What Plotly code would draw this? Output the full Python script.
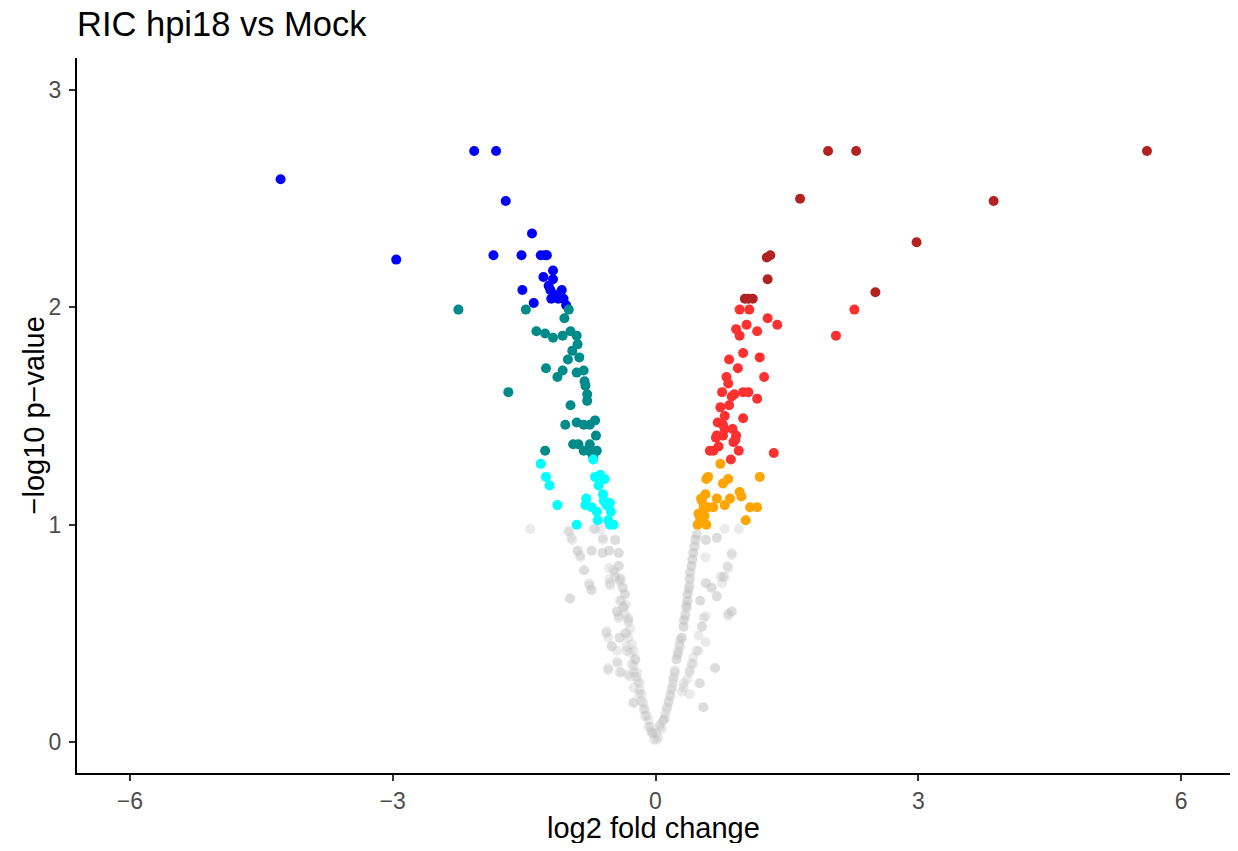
import plotly.graph_objects as go

# ---------------- data (log2 fold change, -log10 p-value) ----------------
gray_x = [-1.43, -0.98, -0.95, -0.69, -0.63, -0.60, -0.46, -0.89, -0.86, -0.73, -0.60, -0.53, -0.42,
          -0.82, -0.53, -0.46, -0.42, -0.39, -0.41, -0.53, -0.52, -0.76, -0.73, -0.37, -0.35, -0.98,
          -0.41, -0.34, -0.44, -0.42, -0.31, -0.31, -0.56, -0.54, -0.41, -0.33, -0.50, -0.44, -0.27,
          -0.25, -0.33, -0.23, -0.25, -0.54, -0.43, -0.39, -0.31, -0.21, -0.20, -0.18, -0.16, -0.25,
          -0.14, -0.12, -0.08, -0.06, -0.03, 0.01, -0.05, 0.03, -0.02, 0.05, -0.10, 0.09, -0.29, -0.36,
          0.07, 0.11, 0.13, 0.15, 0.17, 0.18, 0.20, 0.21, 0.22, 0.24, 0.26, 0.27, 0.30, 0.32, 0.33,
          0.34, 0.36, 0.37, 0.37, 0.39, 0.39, 0.40, 0.41, 0.42, 0.43, 0.44, 0.45, 0.47, 0.32, 0.30,
          0.39, 0.41, 0.43, 0.47, 0.51, 0.54, 0.68, 0.49, 0.53, 0.57, 0.51, 0.57, 0.64, 0.70, 0.76,
          0.77, 0.83, 0.87, 0.83, 0.87, 0.57, 0.70, 0.79, 0.95, 0.35, 0.38, 0.28, 0.25]
gray_y = [0.98, 0.97, 0.93, 0.98, 0.98, 0.93, 0.93, 0.88, 0.85, 0.88, 0.87, 0.88, 0.87,
          0.79, 0.80, 0.78, 0.81, 0.75, 0.74, 0.75, 0.72, 0.73, 0.70, 0.71, 0.68, 0.66,
          0.65, 0.63, 0.60, 0.58, 0.57, 0.55, 0.51, 0.48, 0.48, 0.50, 0.44, 0.42, 0.45,
          0.42, 0.42, 0.38, 0.35, 0.33, 0.36, 0.32, 0.31, 0.32, 0.28, 0.24, 0.22, 0.18,
          0.18, 0.15, 0.10, 0.07, 0.04, 0.01, 0.05, 0.02, 0.01, 0.08, 0.12, 0.10, 0.52, 0.62,
          0.06, 0.11, 0.15, 0.18, 0.21, 0.24, 0.27, 0.30, 0.33, 0.38, 0.42, 0.45, 0.48, 0.53, 0.56,
          0.58, 0.62, 0.65, 0.68, 0.72, 0.75, 0.78, 0.81, 0.84, 0.87, 0.90, 0.93, 0.96, 0.27, 0.23,
          0.33, 0.36, 0.39, 0.42, 0.27, 0.16, 0.34, 0.49, 0.53, 0.58, 0.65, 0.73, 0.71, 0.67, 0.73,
          0.76, 0.80, 0.87, 0.59, 0.60, 0.93, 0.94, 0.98, 0.98, 0.63, 0.70, 0.47, 0.40]

# extra non-significant points along the two arms of the "V"
gray_left_x = [-0.04, -0.08, -0.12, -0.14, -0.16, -0.19, -0.18, -0.22, -0.25, -0.27, -0.23, -0.29,
               -0.33, -0.31, -0.35, -0.31, -0.35, -0.44, -0.42, -0.37, -0.39, -0.35, -0.38, -0.41,
               -0.46, -0.48, -0.42, -0.52, -0.56, -0.50, -0.41, -0.44, -0.41, -0.29, -0.25, -0.25,
               -0.54, -0.97, -0.75, -0.73, -0.81, -0.89, -0.86, -0.73, -0.61, -0.53, -0.42, -0.46,
               -0.60, -0.71, -0.96, -1.00]
gray_left_y = [0.04, 0.07, 0.12, 0.15, 0.19, 0.22, 0.27, 0.30, 0.32, 0.36, 0.38, 0.41,
               0.44, 0.48, 0.50, 0.56, 0.59, 0.60, 0.57, 0.62, 0.65, 0.68, 0.71, 0.75,
               0.76, 0.79, 0.81, 0.73, 0.50, 0.44, 0.48, 0.37, 0.32, 0.30, 0.25, 0.18,
               0.34, 0.66, 0.72, 0.70, 0.79, 0.88, 0.86, 0.88, 0.87, 0.88, 0.87, 0.93,
               0.94, 0.98, 0.94, 0.97]
gray_right_x = [0.01, 0.05, 0.09, 0.11, 0.13, 0.15, 0.17, 0.19, 0.20, 0.22, 0.24, 0.26, 0.28,
                0.30, 0.32, 0.32, 0.34, 0.35, 0.36, 0.36, 0.38, 0.39, 0.39, 0.41, 0.42, 0.43,
                0.45, 0.46, 0.47, 0.49, 0.43, 0.39, 0.36, 0.32, 0.39, 0.50, 0.55, 0.68, 0.57,
                0.53, 0.55, 0.51, 0.58, 0.64, 0.70, 0.74, 0.79, 0.82, 0.87, 0.83, 0.87, 0.57,
                0.58, 0.70]
gray_right_y = [0.04, 0.07, 0.10, 0.13, 0.16, 0.19, 0.22, 0.25, 0.29, 0.32, 0.38, 0.41, 0.44,
                0.48, 0.53, 0.56, 0.59, 0.62, 0.65, 0.68, 0.71, 0.75, 0.78, 0.81, 0.84, 0.87,
                0.90, 0.93, 0.95, 0.42, 0.36, 0.32, 0.29, 0.25, 0.22, 0.27, 0.16, 0.34, 0.46,
                0.53, 0.57, 0.65, 0.73, 0.71, 0.67, 0.76, 0.76, 0.81, 0.86, 0.58, 0.60, 0.85,
                0.93, 0.94]

down_strong_x = [-2.07, -1.82, -4.28, -1.71, -1.41, -2.96, -1.85, -1.53, -1.31, -1.26, -1.24, -1.17,
                 -1.28, -1.17, -1.22, -1.20, -1.07, -1.16, -1.52, -1.19, -1.11, -1.05, -1.39, -1.02]
down_strong_y = [2.72, 2.72, 2.59, 2.49, 2.34, 2.22, 2.24, 2.24, 2.24, 2.24, 2.24, 2.17,
                 2.14, 2.13, 2.10, 2.08, 2.08, 2.06, 2.08, 2.04, 2.04, 2.04, 2.02, 2.01]

down_mid_x = [-2.25, -1.48, -0.99, -1.04, -1.36, -1.26, -1.17, -1.06, -0.97, -0.90, -0.89, -0.95,
              -1.00, -0.87, -1.25, -1.06, -1.12, -0.90, -0.82, -0.81, -0.80, -1.68, -0.78, -0.78,
              -0.97, -1.03, -0.90, -0.82, -0.75, -0.69, -0.68, -0.94, -0.88, -0.82, -0.75, -0.73,
              -0.67, -0.71, -1.26]
down_mid_y = [1.99, 1.99, 1.99, 1.95, 1.89, 1.88, 1.86, 1.87, 1.89, 1.87, 1.83, 1.80,
              1.76, 1.77, 1.72, 1.71, 1.68, 1.70, 1.71, 1.66, 1.64, 1.61, 1.60, 1.57,
              1.55, 1.46, 1.47, 1.46, 1.46, 1.48, 1.41, 1.37, 1.37, 1.34, 1.37, 1.33,
              1.34, 1.31, 1.34]

down_weak_x = [-1.31, -1.25, -1.21, -1.12, -0.90, -0.71, -0.69, -0.63, -0.58, -0.65, -0.79, -0.80,
               -0.73, -0.60, -0.59, -0.52, -0.56, -0.67, -0.51, -0.66, -0.54, -0.48, -0.52]
down_weak_y = [1.28, 1.22, 1.18, 1.09, 1.00, 1.30, 1.22, 1.23, 1.21, 1.18, 1.12, 1.09,
               1.08, 1.14, 1.11, 1.10, 1.09, 1.06, 1.06, 1.02, 1.02, 1.00, 1.00]

up_weak_x = [0.74, 0.60, 0.58, 0.77, 0.83, 1.19, 0.57, 0.96, 0.98, 0.70, 0.85, 0.53, 0.55,
             0.60, 0.66, 0.79, 1.08, 1.16, 0.49, 0.51, 0.48, 0.58, 1.03, 0.52, 0.56]
up_weak_y = [1.28, 1.22, 1.21, 1.19, 1.21, 1.22, 1.14, 1.15, 1.13, 1.12, 1.12, 1.11, 1.08,
             1.08, 1.08, 1.09, 1.08, 1.08, 1.05, 1.03, 1.00, 1.00, 1.02, 1.12, 1.04]

up_mid_x = [0.96, 1.07, 1.28, 1.39, 0.92, 0.96, 1.04, 1.16, 1.00, 0.84, 1.19, 0.94, 0.81, 0.83,
            1.24, 0.76, 0.87, 0.90, 1.00, 1.06, 1.16, 0.74, 0.84, 0.79, 1.00, 0.71, 0.77, 0.79,
            0.88, 0.92, 0.70, 0.69, 0.77, 0.89, 0.91, 0.72, 0.66, 0.62, 0.95, 0.86, 1.35, 2.27,
            2.06]
up_mid_y = [1.99, 1.99, 1.95, 1.92, 1.90, 1.87, 1.92, 1.89, 1.79, 1.76, 1.77, 1.72, 1.68, 1.65,
            1.68, 1.61, 1.59, 1.60, 1.61, 1.61, 1.58, 1.54, 1.55, 1.50, 1.49, 1.47, 1.46, 1.44,
            1.44, 1.41, 1.41, 1.40, 1.41, 1.38, 1.39, 1.36, 1.34, 1.34, 1.34, 1.30, 1.33, 1.99,
            1.87]

up_strong_x = [1.97, 2.29, 5.61, 1.65, 3.86, 2.98, 1.27, 1.31, 1.28, 2.51, 1.02, 1.06, 1.11]
up_strong_y = [2.72, 2.72, 2.72, 2.50, 2.49, 2.30, 2.23, 2.24, 2.13, 2.07, 2.04, 2.04, 2.04]

x_ticks = [-6, -3, 0, 3, 6]
x_tick_labels = ["\u22126", "\u22123", "0", "3", "6"]
y_ticks = [0, 1, 2, 3]
y_tick_labels = ["0", "1", "2", "3"]

# ---------------- figure ----------------
FONT = "Liberation Sans, Arial, sans-serif"
fig = go.Figure()

all_gray_x = gray_x + gray_left_x + gray_right_x
all_gray_y = gray_y + gray_left_y + gray_right_y

groups = [
    (all_gray_x, all_gray_y, "#BEBEBE", 0.3),
    (down_strong_x, down_strong_y, "#0000FF", 1.0),
    (down_mid_x, down_mid_y, "#008B8B", 1.0),
    (down_weak_x, down_weak_y, "#00FFFF", 1.0),
    (up_weak_x, up_weak_y, "#FFA500", 1.0),
    (up_mid_x, up_mid_y, "#FF3030", 1.0),
    (up_strong_x, up_strong_y, "#B22222", 1.0),
]
for gx, gy, col, op in groups:
    fig.add_trace(go.Scatter(
        x=gx, y=gy, mode="markers",
        marker=dict(color=col, size=10, opacity=op, line=dict(width=0)),
        showlegend=False, hoverinfo="x+y"))

axis_common = dict(
    showgrid=False, zeroline=False, showline=True, linecolor="black", linewidth=2,
    ticks="outside", ticklen=6, tickwidth=2, tickcolor="#333333", automargin=False,
    tickfont=dict(family=FONT, size=23, color="#4D4D4D"),
)

fig.update_layout(
    width=1222, height=835,
    paper_bgcolor="white", plot_bgcolor="white",
    margin=dict(l=69, r=0, t=50, b=70),
    title=dict(text="RIC hpi18 vs Mock", x=0, xref="paper", xanchor="left",
               y=0.981, yref="container", yanchor="middle",
               font=dict(family=FONT, size=34.5, color="black")),
    xaxis=dict(range=[-6.604, 6.558], tickvals=x_ticks, ticktext=x_tick_labels, **axis_common),
    yaxis=dict(range=[-0.143, 3.148], tickvals=y_ticks, ticktext=y_tick_labels,
               ticklabelstandoff=3, **axis_common),
    annotations=[
        dict(text="log2 fold change", xref="paper", yref="paper", x=0.5, y=0,
             xanchor="center", yanchor="middle", yshift=-55, showarrow=False,
             font=dict(family=FONT, size=29, color="black")),
        dict(text="\u2212log10 p\u2212value", xref="paper", yref="paper", x=0, y=0.5,
             xanchor="center", yanchor="middle", xshift=-44, textangle=-90, showarrow=False,
             font=dict(family=FONT, size=29, color="black")),
    ],
)

fig.write_html("out.html")
